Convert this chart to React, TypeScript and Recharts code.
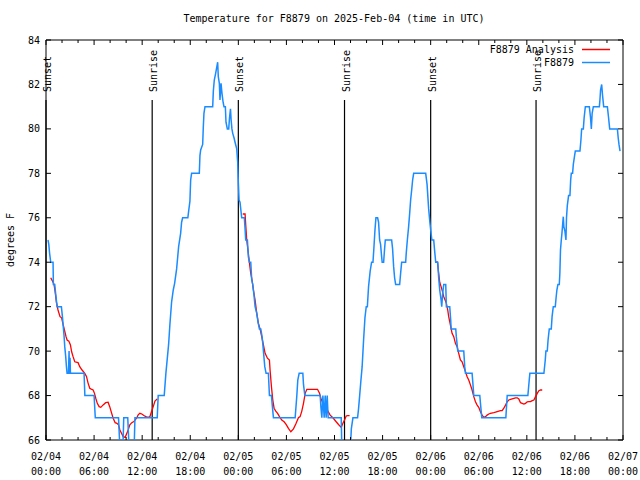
import React from "react";
import { LineChart, Line, XAxis, YAxis, ReferenceLine, ReferenceArea } from "recharts";

type Pt = [number, number];

// hours since 02/04 00:00 UTC
const hourTicks = [0, 2, 4, 6, 8, 10, 12, 14, 16, 18, 20, 22, 24, 26, 28, 30, 32, 34, 36, 38, 40, 42, 44, 46, 48, 50, 52, 54, 56, 58, 60, 62, 64, 66, 68, 70, 72];
const tempTicks = [66, 68, 70, 72, 74, 76, 78, 80, 82, 84];
const sunsets = [0, 24, 48];
const sunrises = [13.25, 37.25, 61.15];

const analysisNight1: Pt[] = [
  [0.59, 73.3], [0.88, 73.1], [1.0, 73.0], [1.13, 72.7], [1.3, 72.2], [1.5, 71.85], [1.75, 71.55], [1.95, 71.5],
  [2.13, 71.2], [2.3, 70.95], [2.5, 70.65], [2.63, 70.5], [2.85, 70.45], [3.05, 70.28], [3.2, 69.97], [3.38, 69.75],
  [3.59, 69.52], [4.0, 69.48], [4.21, 69.3], [4.5, 69.15], [4.84, 69.0], [5.05, 68.86], [5.25, 68.56], [5.46, 68.33],
  [5.65, 68.29], [5.88, 68.25], [6.05, 68.1], [6.21, 67.88], [6.4, 67.65], [6.63, 67.5], [6.84, 67.47], [7.13, 67.58],
  [7.45, 67.68], [7.75, 67.7], [7.95, 67.5], [8.17, 67.23], [8.38, 66.98], [8.63, 66.78], [8.85, 66.75], [9.05, 66.68],
  [9.22, 66.45], [9.42, 66.3], [9.63, 66.15], [9.88, 66.12], [10.05, 66.27], [10.25, 66.45], [10.46, 66.68], [10.71, 66.78],
  [10.96, 66.83], [11.3, 66.98], [11.5, 67.13], [11.71, 67.2], [11.96, 67.17], [12.21, 67.1], [12.46, 67.05], [12.75, 67.02],
  [12.96, 67.05], [13.17, 67.28], [13.38, 67.5], [13.6, 67.75], [13.88, 67.85],
];

const analysisNight2: Pt[] = [
  [24.55, 76.17], [24.84, 76.17], [24.92, 75.7], [25.05, 75.0], [25.25, 74.4], [25.38, 73.98], [25.55, 73.5], [25.71, 73.2],
  [25.88, 72.75], [26.09, 72.3], [26.3, 71.7], [26.5, 71.25], [26.71, 71.0], [26.92, 70.65], [27.13, 70.28], [27.34, 69.9],
  [27.63, 69.68], [27.88, 69.6], [27.96, 69.15], [28.13, 68.4], [28.3, 67.8], [28.46, 67.43], [28.67, 67.3], [28.9, 67.2],
  [29.13, 67.05], [29.42, 66.9], [29.71, 66.82], [29.96, 66.7], [30.25, 66.52], [30.55, 66.37], [30.88, 66.5], [31.17, 66.72],
  [31.5, 67.0], [31.71, 67.05], [31.92, 67.3], [32.13, 67.65], [32.34, 68.1], [32.55, 68.28], [33.2, 68.28], [33.88, 68.28],
  [34.13, 68.1], [34.3, 67.88], [34.55, 67.65], [34.88, 67.5], [35.1, 67.35], [35.46, 67.12], [35.8, 67.0], [36.21, 66.82],
  [36.5, 66.7], [36.84, 66.57], [37.05, 66.75], [37.25, 66.9], [37.46, 67.08], [37.65, 67.1], [37.88, 67.1],
];

const analysisNight3: Pt[] = [
  [48.71, 74.03], [48.85, 74.0], [49.0, 73.5], [49.13, 73.1], [49.3, 72.9], [49.46, 72.7], [49.63, 72.45], [49.8, 72.3],
  [49.96, 72.15], [50.13, 71.85], [50.25, 71.55], [50.46, 71.18], [50.67, 70.8], [50.88, 70.65], [51.09, 70.35], [51.3, 70.2],
  [51.5, 69.9], [51.71, 69.6], [51.92, 69.52], [52.13, 69.3], [52.34, 69.08], [52.55, 68.85], [52.75, 68.7], [52.96, 68.48],
  [53.17, 68.25], [53.38, 67.95], [53.59, 67.72], [53.8, 67.57], [54.0, 67.47], [54.21, 67.27], [54.42, 67.12], [54.63, 67.02],
  [54.84, 67.05], [55.05, 67.12], [55.25, 67.17], [55.46, 67.2], [55.88, 67.23], [56.09, 67.25], [56.3, 67.28], [56.71, 67.32],
  [56.92, 67.32], [57.13, 67.43], [57.34, 67.57], [57.55, 67.72], [57.75, 67.8], [58.17, 67.85], [58.59, 67.9], [58.8, 67.9],
  [59.0, 67.85], [59.21, 67.68], [59.63, 67.62], [59.84, 67.65], [60.05, 67.72], [60.25, 67.73], [60.46, 67.73], [60.67, 67.77],
  [60.88, 67.8], [61.09, 67.95], [61.3, 68.1], [61.5, 68.22], [61.71, 68.25], [61.92, 68.25],
];

const observedFeb04: Pt[] = [
  [0.25, 75], [0.35, 74.8], [0.45, 74.4], [0.59, 74], [0.88, 74], [0.92, 73], [1.09, 73], [1.2, 72.6], [1.38, 72], [1.92, 72],
  [2.05, 71.55], [2.13, 71.2], [2.25, 70.7], [2.34, 70.2], [2.46, 69.75], [2.55, 69.3], [2.63, 69], [2.8, 69], [2.88, 70],
  [2.92, 69], [2.96, 69], [3.0, 69.7], [3.05, 69], [4.75, 69], [4.85, 68], [6.0, 68], [6.15, 67], [9.05, 67], [9.3, 65],
  [9.55, 65], [9.7, 67], [10.2, 67], [10.45, 65], [10.95, 65], [11.1, 67], [13.88, 67], [14.0, 68], [14.75, 68], [14.96, 69],
  [15.3, 70.3], [15.46, 71.2], [15.67, 72.2], [15.88, 72.75], [16.05, 73.05], [16.3, 73.7], [16.55, 74.7], [16.8, 75.3],
  [16.92, 75.8], [17.05, 76], [17.7, 76], [17.8, 76.3], [17.96, 76.75], [18.05, 77.7], [18.17, 78], [19.13, 78], [19.21, 78.8],
  [19.3, 79.05], [19.55, 79.3], [19.63, 80.1], [19.71, 80.7], [19.84, 81], [20.8, 81], [20.88, 81.7], [21.0, 82.2],
  [21.17, 82.5], [21.42, 83], [21.5, 82.35], [21.63, 82.05], [21.71, 81.3], [21.84, 82.05], [21.96, 81.6], [22.1, 81.2],
  [22.21, 81], [22.38, 81], [22.46, 80.3], [22.63, 80], [22.8, 80], [22.9, 80.5], [23.02, 80.9], [23.1, 80.4], [23.2, 80],
  [23.3, 79.8], [23.46, 79.6], [23.59, 79.4], [23.8, 79.1], [23.92, 78.5], [24.0, 77.6],
];

const observedFeb05: Pt[] = [
  [24.09, 76.8], [24.21, 76.7], [24.34, 76.27], [24.42, 76], [24.75, 76], [24.84, 75.5], [24.92, 75], [25.13, 75],
  [25.25, 74.25], [25.38, 74], [25.55, 74], [25.67, 73.2], [25.8, 73], [25.96, 72.5], [26.09, 72], [26.3, 71.7],
  [26.46, 71.3], [26.63, 71], [26.8, 71], [26.96, 70.65], [27.05, 70.35], [27.13, 70], [27.3, 69.3], [27.46, 69],
  [27.75, 69], [27.88, 68], [28.13, 68], [28.25, 67.5], [28.38, 67], [31.09, 67], [31.3, 68], [31.42, 68.7], [31.59, 69],
  [32.05, 69], [32.13, 68.5], [32.3, 68], [34.21, 68], [34.3, 67.5], [34.42, 67], [34.55, 68], [34.71, 67], [34.84, 68],
  [34.96, 67], [35.09, 68], [35.21, 67], [36.84, 67], [36.95, 65], [37.9, 65], [38.1, 66.5], [38.3, 67], [38.88, 67],
  [39.0, 67.4], [39.13, 67.95], [39.3, 68.7], [39.45, 69.3], [39.63, 70.5], [39.8, 71.5], [39.96, 72], [40.1, 72],
  [40.25, 72.9], [40.45, 73.6], [40.63, 74], [40.8, 74], [40.9, 74.55], [41.05, 75.45], [41.17, 76], [41.38, 76],
  [41.5, 75.8], [41.63, 75], [41.75, 74.8], [41.88, 74.25], [41.95, 74], [42.13, 74], [42.25, 74.6], [42.34, 75],
  [43.13, 75], [43.25, 74.6], [43.38, 73.8], [43.5, 73.3], [43.63, 73], [44.13, 73], [44.25, 73.5], [44.38, 74],
  [44.88, 74], [44.95, 74.4], [45.09, 75], [45.25, 75.6], [45.38, 76.2], [45.5, 76.8], [45.63, 77.25], [45.75, 77.7],
  [45.88, 78], [47.38, 78], [47.55, 77.5], [47.75, 76.4], [47.9, 75.8],
];

const observedFeb06: Pt[] = [
  [48.05, 75.3], [48.15, 75], [48.38, 75], [48.5, 74.5], [48.63, 74], [48.88, 74], [49.0, 73.3], [49.13, 72.75],
  [49.3, 72.3], [49.38, 72], [49.5, 72.6], [49.63, 73], [49.88, 73], [49.96, 72], [50.38, 72], [50.5, 71.4], [50.55, 71],
  [51.13, 71], [51.2, 70.65], [51.3, 70.3], [51.38, 70], [52.13, 70], [52.25, 69.3], [52.34, 69], [53.17, 69], [53.3, 68.4],
  [53.38, 68], [54.13, 68], [54.25, 67.5], [54.38, 67], [57.38, 67], [57.55, 68], [60.13, 68], [60.3, 68.7], [60.38, 69],
  [62.13, 69], [62.3, 69.6], [62.38, 70], [62.55, 70], [62.65, 70.5], [62.8, 71], [63.05, 71], [63.15, 71.55], [63.3, 72],
  [63.55, 72], [63.65, 72.4], [63.75, 72.75], [63.88, 73], [64.05, 73], [64.12, 73.5], [64.2, 74.55], [64.3, 75],
  [64.38, 75.3], [64.55, 76.05], [64.62, 75.6], [64.75, 75.4], [64.88, 75], [64.95, 76], [65.05, 76.55], [65.21, 77],
  [65.38, 77], [65.47, 77.7], [65.55, 78], [65.71, 78], [65.8, 78.4], [65.96, 78.8], [66.05, 79], [66.63, 79], [66.75, 79.5],
  [66.84, 80], [67.05, 80], [67.15, 80.5], [67.3, 81], [67.8, 81], [67.95, 80.5], [68.05, 80], [68.15, 80.7], [68.3, 81],
  [69.05, 81], [69.12, 81.3], [69.2, 81.75], [69.34, 82], [69.45, 81.5], [69.59, 81], [70.05, 81], [70.2, 80.5],
  [70.34, 80], [71.3, 80], [71.4, 79.6], [71.5, 79.3], [71.63, 79],
];

const RED = "#ff0000";
const BLUE = "#1a8cff";
const FONT = "'DejaVu Sans Mono', 'Liberation Mono', monospace";
const PLOT = { left: 46, right: 623, top: 40, bottom: 440 };

const rows = (pts: Pt[]) => pts.map(([h, t]) => ({ h, t }));
const observed = rows([...observedFeb04, ...observedFeb05, ...observedFeb06]);
const nights = [analysisNight1, analysisNight2, analysisNight3].map(rows);

const dayLabel = (h: number) => "02/0" + (4 + Math.floor(h / 24));
const hourLabel = (h: number) => String(h % 24).padStart(2, "0") + ":00";

function XTick({ x, y, payload }: any) {
  const h = payload.value as number;
  const major = h % 6 === 0;
  const len = major ? 5 : 3;
  return (
    <g>
      <line x1={x} y1={y} x2={x} y2={y - len} stroke="#000" />
      <line x1={x} y1={PLOT.top} x2={x} y2={PLOT.top + len} stroke="#000" />
      {major && (
        <text x={x} y={y} textAnchor="middle" fontSize={10} fontFamily={FONT} fill="#000">
          <tspan x={x} dy={20}>{dayLabel(h)}</tspan>
          <tspan x={x} dy={15}>{hourLabel(h)}</tspan>
        </text>
      )}
    </g>
  );
}

function YTick({ x, y, payload }: any) {
  return (
    <g>
      <line x1={x} y1={y} x2={x + 5} y2={y} stroke="#000" />
      <line x1={PLOT.right} y1={y} x2={PLOT.right - 5} y2={y} stroke="#000" />
      <text x={x - 6} y={y} dy={3.5} textAnchor="end" fontSize={10} fontFamily={FONT} fill="#000">
        {payload.value}
      </text>
    </g>
  );
}

const sunLabel = (text: string) => (props: any) => {
  const vb = props.viewBox;
  const tx = vb.x + 5;
  const ty = vb.y - 8;
  return (
    <text x={tx} y={ty} transform={`rotate(-90 ${tx} ${ty})`} textAnchor="start" fontSize={10} fontFamily={FONT} fill="#000">
      {text}
    </text>
  );
};

const yLabel = (props: any) => {
  const vb = props.viewBox;
  const cx = 10;
  const cy = vb.y + vb.height / 2;
  return (
    <text x={cx} y={cy} transform={`rotate(-90 ${cx} ${cy})`} textAnchor="middle" dominantBaseline="central" fontSize={10} fontFamily={FONT} fill="#000">
      degrees F
    </text>
  );
};

const legendItems = [
  { name: "F8879 Analysis", color: RED },
  { name: "F8879", color: BLUE },
];

export default function App() {
  return (
    <div style={{ position: "fixed", left: 0, top: 0, width: 640, height: 480, background: "#fff", fontFamily: FONT }}>
      <div style={{ position: "absolute", left: 134, top: 12, width: 400, textAlign: "center", fontSize: 10, lineHeight: "14px" }}>
        Temperature for F8879 on 2025-Feb-04 (time in UTC)
      </div>
      <LineChart width={640} height={480} margin={{ top: PLOT.top, right: 640 - PLOT.right, bottom: 0, left: 0 }}>
        <XAxis
          dataKey="h"
          type="number"
          domain={[0, 72]}
          ticks={hourTicks}
          interval={0}
          allowDataOverflow
          axisLine={false}
          tickLine={false}
          tickSize={0}
          tickMargin={0}
          height={480 - PLOT.bottom}
          tick={<XTick />}
        />
        <YAxis
          type="number"
          domain={[66, 84]}
          ticks={tempTicks}
          interval={0}
          allowDataOverflow
          axisLine={false}
          tickLine={false}
          tickSize={0}
          tickMargin={0}
          width={PLOT.left}
          tick={<YTick />}
          label={yLabel}
        />
        <ReferenceArea x1={0} x2={72} y1={66} y2={84} fill="none" stroke="#000" strokeWidth={1} />
        {sunsets.map((t) => (
          <ReferenceLine key={"ss" + t} segment={[{ x: t, y: 81.3 }, { x: t, y: 66 }]} stroke="#000" strokeWidth={1.2} label={sunLabel("Sunset")} />
        ))}
        {sunrises.map((t) => (
          <ReferenceLine key={"sr" + t} segment={[{ x: t, y: 81.3 }, { x: t, y: 66 }]} stroke="#000" strokeWidth={1.2} label={sunLabel("Sunrise")} />
        ))}
        {nights.map((d, i) => (
          <Line key={"an" + i} data={d} dataKey="t" type="linear" stroke={RED} strokeWidth={1.3} dot={false} activeDot={false} isAnimationActive={false} />
        ))}
        <Line data={observed} dataKey="t" type="linear" stroke={BLUE} strokeWidth={1.5} dot={false} activeDot={false} isAnimationActive={false} />
      </LineChart>
      <div style={{ position: "absolute", left: 410, top: 43, width: 200, fontSize: 10 }}>
        {legendItems.map((it) => (
          <div key={it.name} style={{ display: "flex", justifyContent: "flex-end", alignItems: "center", height: 13 }}>
            <span>{it.name}</span>
            <svg width={36} height={13} style={{ display: "block" }}>
              <line x1={8} y1={6.5} x2={36} y2={6.5} stroke={it.color} strokeWidth={1.5} />
            </svg>
          </div>
        ))}
      </div>
    </div>
  );
}
